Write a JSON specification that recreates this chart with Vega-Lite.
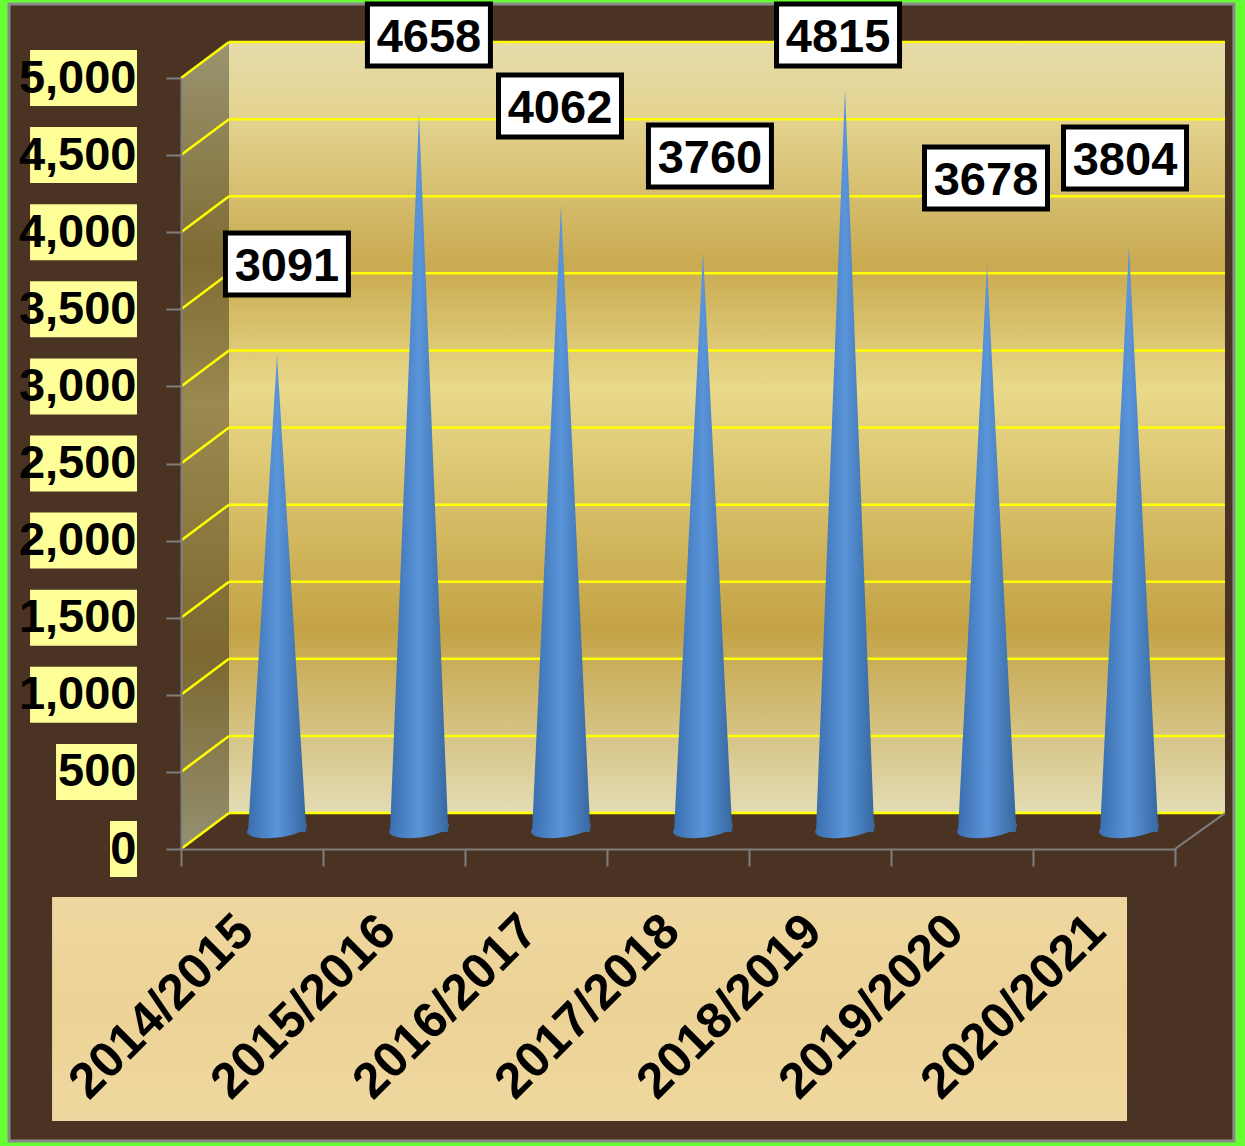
{
"$schema":"https://vega.github.io/schema/vega-lite/v6.json",
"width":994,"height":771,
"autosize":{"type":"none"},
"padding":{"left":181,"top":78,"right":70,"bottom":297},
"background":"#66ff33",
"config":{"view":{"stroke":null},"font":"Liberation Sans"},
"datasets":{
"seasons":[
{"season":"2014/2015","value":3091,"center":0.676,"labelX":0.746,"labelY":3794},
{"season":"2015/2016","value":4658,"center":1.676,"labelX":1.746,"labelY":5279},
{"season":"2016/2017","value":4062,"center":2.676,"labelX":2.669,"labelY":4818},
{"season":"2017/2018","value":3760,"center":3.676,"labelX":3.725,"labelY":4494},
{"season":"2018/2019","value":4815,"center":4.676,"labelX":4.627,"labelY":5279},
{"season":"2019/2020","value":3678,"center":5.676,"labelX":5.669,"labelY":4351},
{"season":"2020/2021","value":3804,"center":6.676,"labelX":6.648,"labelY":4481}],
"cones":[
{"season":"2014/2015","pos":0.472,"v":0},{"season":"2014/2015","pos":0.676,"v":3091},{"season":"2014/2015","pos":0.880,"v":45},
{"season":"2015/2016","pos":1.472,"v":0},{"season":"2015/2016","pos":1.676,"v":4658},{"season":"2015/2016","pos":1.880,"v":45},
{"season":"2016/2017","pos":2.472,"v":0},{"season":"2016/2017","pos":2.676,"v":4062},{"season":"2016/2017","pos":2.880,"v":45},
{"season":"2017/2018","pos":3.472,"v":0},{"season":"2017/2018","pos":3.676,"v":3760},{"season":"2017/2018","pos":3.880,"v":45},
{"season":"2018/2019","pos":4.472,"v":0},{"season":"2018/2019","pos":4.676,"v":4815},{"season":"2018/2019","pos":4.880,"v":45},
{"season":"2019/2020","pos":5.472,"v":0},{"season":"2019/2020","pos":5.676,"v":3678},{"season":"2019/2020","pos":5.880,"v":45},
{"season":"2020/2021","pos":6.472,"v":0},{"season":"2020/2021","pos":6.676,"v":3804},{"season":"2020/2021","pos":6.880,"v":45}],
"grid":[
{"v":0,"back":233,"left":-0.5},{"v":500,"back":733,"left":-0.88},{"v":1000,"back":1233,"left":-1.063},{"v":1500,"back":1733,"left":-1.063},
{"v":2000,"back":2233,"left":-1.063},{"v":2500,"back":2733,"left":-1.063},{"v":3000,"back":3233,"left":-1.063},{"v":3500,"back":3733,"left":-1.063},
{"v":4000,"back":4233,"left":-1.063},{"v":4500,"back":4733,"left":-1.063},{"v":5000,"back":5233,"left":-1.063}],
"side":[{"pos":0,"low":0,"high":5000},{"pos":0.338,"low":233,"high":5233}]
},
"resolve":{"scale":{"x":"independent"},"axis":{"x":"independent"}},
"layer":[
{"data":{"values":[{"a":1}]},"mark":{"type":"rect","fill":"#4b3323","stroke":"#8a8a8a","strokeWidth":3},
 "encoding":{"x":{"datum":-1.211,"type":"quantitative","scale":{"domain":[0,7]},"axis":null},"x2":{"datum":7.415},
 "y":{"datum":5480,"type":"quantitative","scale":{"domain":[0,5000],"nice":false},
   "axis":{"title":null,"zindex":1,"values":[0,500,1000,1500,2000,2500,3000,3500,4000,4500,5000],"labelFontSize":47,"labelFontWeight":"bold","labelColor":"#000000","labelFont":"Liberation Sans","labelPadding":30,"labelOverlap":false,"labelBound":false,"labelFlush":false,"labelLimit":0,"tickSize":15,"tickWidth":2,"tickColor":"#7f7f7f","domainColor":"#7f7f7f","domainWidth":2,"grid":false}},"y2":{"datum":-1894}}},
{"data":{"values":[{"a":1}]},"mark":{"type":"rect","fill":{"gradient":"linear","x1":0,"y1":0,"x2":0,"y2":1,"stops":[{"offset":0,"color":"#eed79f"},{"offset":0.5,"color":"#ecd296"},{"offset":1,"color":"#efd89f"}]}},
 "encoding":{"x":{"datum":-0.908,"type":"quantitative","scale":{"domain":[0,7]},"axis":null},"x2":{"datum":6.662},
 "y":{"datum":-311,"type":"quantitative"},"y2":{"datum":-1764}}},
{"data":{"values":[{"a":1}]},"mark":{"type":"rect","fill":{"gradient":"linear","x1":0,"y1":0,"x2":0,"y2":1,"stops":[{"offset":0,"color":"#e6dcab"},{"offset":0.1,"color":"#e3d38f"},{"offset":0.29,"color":"#c9aa50"},{"offset":0.45,"color":"#e9d98a"},{"offset":0.76,"color":"#c4a345"},{"offset":1,"color":"#e3dcb4"}]}},
 "encoding":{"x":{"datum":0.338,"type":"quantitative","scale":{"domain":[0,7]},"axis":null},"x2":{"datum":7.352},
 "y":{"datum":233,"type":"quantitative"},"y2":{"datum":5233}}},
{"data":{"name":"side"},"mark":{"type":"area","fill":{"gradient":"linear","x1":0,"y1":0,"x2":0,"y2":1,"stops":[{"offset":0,"color":"#9a9470"},{"offset":0.27,"color":"#7f6c33"},{"offset":0.45,"color":"#9a8a50"},{"offset":0.76,"color":"#7c6830"},{"offset":1,"color":"#949070"}]}},
 "encoding":{"x":{"field":"pos","type":"quantitative","scale":{"domain":[0,7]},"axis":null},"y":{"field":"low","type":"quantitative"},"y2":{"field":"high"}}},
{"data":{"name":"grid"},"mark":{"type":"rule","color":"#ffff00","strokeWidth":2.5},
 "encoding":{"x":{"datum":0.338,"type":"quantitative","scale":{"domain":[0,7]},"axis":null},"x2":{"datum":7.352},"y":{"field":"back","type":"quantitative"}}},
{"data":{"name":"grid"},"mark":{"type":"rule","color":"#ffff00","strokeWidth":2.5},
 "encoding":{"x":{"datum":0,"type":"quantitative","scale":{"domain":[0,7]},"axis":null},"x2":{"datum":0.338},"y":{"field":"v","type":"quantitative"},"y2":{"field":"back"}}},
{"data":{"values":[{"a":1}]},"mark":{"type":"rule","color":"#7f7f7f","strokeWidth":2},
 "encoding":{"x":{"datum":7,"type":"quantitative","scale":{"domain":[0,7]},"axis":null},"x2":{"datum":7.352},"y":{"datum":0,"type":"quantitative"},"y2":{"datum":233}}},
{"data":{"name":"cones"},"mark":{"type":"area","yOffset":-17,"y2Offset":-17,"fill":{"gradient":"linear","x1":0,"y1":0,"x2":1,"y2":0,"stops":[{"offset":0,"color":"#3a6eae"},{"offset":0.5,"color":"#5a95da"},{"offset":1,"color":"#3767a0"}]}},
 "encoding":{"x":{"field":"pos","type":"quantitative","scale":{"domain":[0,7]},"axis":null},"y":{"field":"v","type":"quantitative"},"y2":{"datum":0},"detail":{"field":"season"}}},
{"data":{"name":"seasons"},"mark":{"type":"point","filled":true,"opacity":1,"size":3600,"xOffset":25,"yOffset":-20.5,"shape":"M-1,0.117 A1,0.3 -7 1 0 1,-0.117 A1,0.3 -7 1 0 -1,0.117 Z","fill":{"gradient":"linear","x1":0,"y1":0,"x2":1,"y2":0,"stops":[{"offset":0,"color":"#3a6eae"},{"offset":0.5,"color":"#5a95da"},{"offset":1,"color":"#3767a0"}]}},
 "encoding":{"x":{"field":"season","type":"nominal","sort":null,"scale":{"paddingInner":0,"paddingOuter":0},
   "axis":{"title":null,"zindex":1,"labelAngle":-45,"labelAlign":"right","labelBaseline":"middle","labelFontSize":50,"labelFontWeight":"bold","labelColor":"#000000","labelFont":"Liberation Sans","labelPadding":57,"labelOffset":-7,"labelOverlap":false,"labelBound":false,"labelFlush":false,"labelLimit":0,"tickBand":"extent","tickSize":17,"tickWidth":2,"tickColor":"#7f7f7f","domainColor":"#7f7f7f","domainWidth":2,"grid":false}},
  "y":{"datum":0,"type":"quantitative"}}},
{"data":{"name":"grid"},"mark":{"type":"rect","fill":"#ffff99","height":56},
 "encoding":{"x":{"field":"left","type":"quantitative","scale":{"domain":[0,7]},"axis":null},"x2":{"datum":-0.31},"y":{"field":"v","type":"quantitative"}}},
{"data":{"name":"seasons"},"mark":{"type":"rect","fill":"#ffffff","stroke":"#000000","strokeWidth":5,"width":123,"height":62},
 "encoding":{"x":{"field":"labelX","type":"quantitative","scale":{"domain":[0,7]},"axis":null},"y":{"field":"labelY","type":"quantitative"}}},
{"data":{"name":"seasons"},"mark":{"type":"text","font":"Liberation Sans","fontWeight":"bold","fontSize":47,"color":"#000000","baseline":"middle","align":"center","dy":3},
 "encoding":{"x":{"field":"labelX","type":"quantitative","scale":{"domain":[0,7]},"axis":null},"y":{"field":"labelY","type":"quantitative"},"text":{"field":"value","type":"quantitative"}}}
]
}
